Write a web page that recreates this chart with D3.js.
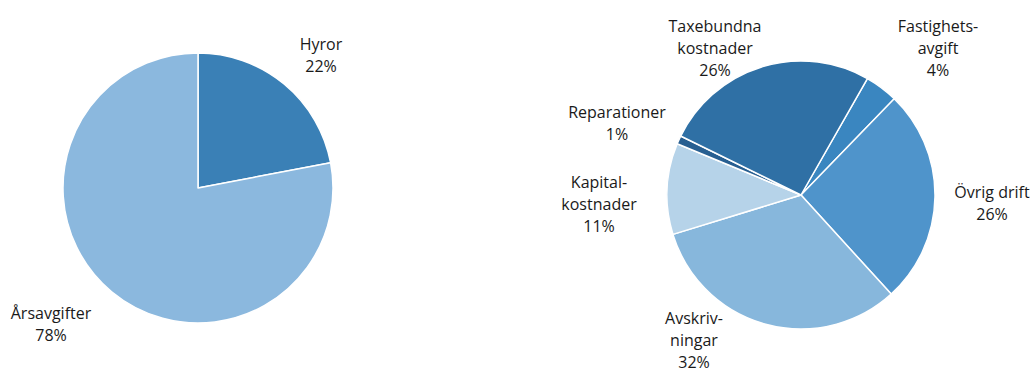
<!DOCTYPE html>
<html>
<head>
<meta charset="utf-8">
<script src="https://cdn.jsdelivr.net/npm/d3@7"></script>
<style>
  html, body { margin: 0; padding: 0; background: #ffffff; }
  svg text { font-family: "Open Sans", "Noto Sans", sans-serif; font-size: 16px; fill: #1a1a1a; }
</style>
</head>
<body>
<svg id="chart" width="1035" height="374"></svg>
<script>
// Left pie: income
const leftCategories = ["Hyror", "Årsavgifter"];
const leftValues = [22, 78];
const leftLabels = [["Hyror", "22%"], ["Årsavgifter", "78%"]];
const leftColors = ["#3a80b6", "#8bb8de"];

// Right pie: costs (clockwise from top-right)
const rightCategories = ["Fastighetsavgift", "Övrig drift", "Avskrivningar", "Kapitalkostnader", "Reparationer", "Taxebundna kostnader"];
const rightValues = [4, 26, 32, 11, 1, 26];
const rightLabels = [
  ["Fastighets-", "avgift", "4%"],
  ["Övrig drift", "26%"],
  ["Avskriv-", "ningar", "32%"],
  ["Kapital-", "kostnader", "11%"],
  ["Reparationer", "1%"],
  ["Taxebundna", "kostnader", "26%"]
];
const rightColors = ["#3a86c0", "#4f94cb", "#87b7dc", "#b6d3e9", "#285f91", "#2f70a5"];

const svg = d3.select("#chart");

function drawPie(cfg) {
  const g = svg.append("g").attr("transform", `translate(${cfg.cx},${cfg.cy})`);
  const pie = d3.pie().sort(null).value(d => d)
    .startAngle(cfg.start).endAngle(cfg.start + 2 * Math.PI);
  const arc = d3.arc().innerRadius(0).outerRadius(cfg.r);
  const color = d3.scaleOrdinal().domain(cfg.categories).range(cfg.colors);
  const arcs = pie(cfg.values);
  g.selectAll("path").data(arcs).enter().append("path")
    .attr("d", arc)
    .attr("fill", (d, i) => color(cfg.categories[i]))
    .attr("stroke", "#ffffff")
    .attr("stroke-width", 1.5)
    .attr("stroke-linejoin", "round");
  cfg.labels.forEach((lines, i) => {
    const pos = cfg.labelPos[i];
    const lh = pos[2] || cfg.lineH;
    const t = svg.append("text").attr("text-anchor", "middle");
    lines.forEach((ln, j) => {
      t.append("tspan").attr("x", pos[0]).attr("y", pos[1] + j * lh).text(ln);
    });
  });
}

drawPie({
  cx: 198, cy: 188, r: 135, start: 0,
  categories: leftCategories, values: leftValues, colors: leftColors,
  labels: leftLabels, lineH: 22,
  labelPos: [[321, 50], [51, 319]]
});

drawPie({
  cx: 801, cy: 195, r: 134, start: 29.7 * Math.PI / 180,
  categories: rightCategories, values: rightValues, colors: rightColors,
  labels: rightLabels, lineH: 22,
  labelPos: [[938, 32], [992, 198], [694, 324], [599, 188], [617, 118], [715, 32]]
});
</script>
</body>
</html>
